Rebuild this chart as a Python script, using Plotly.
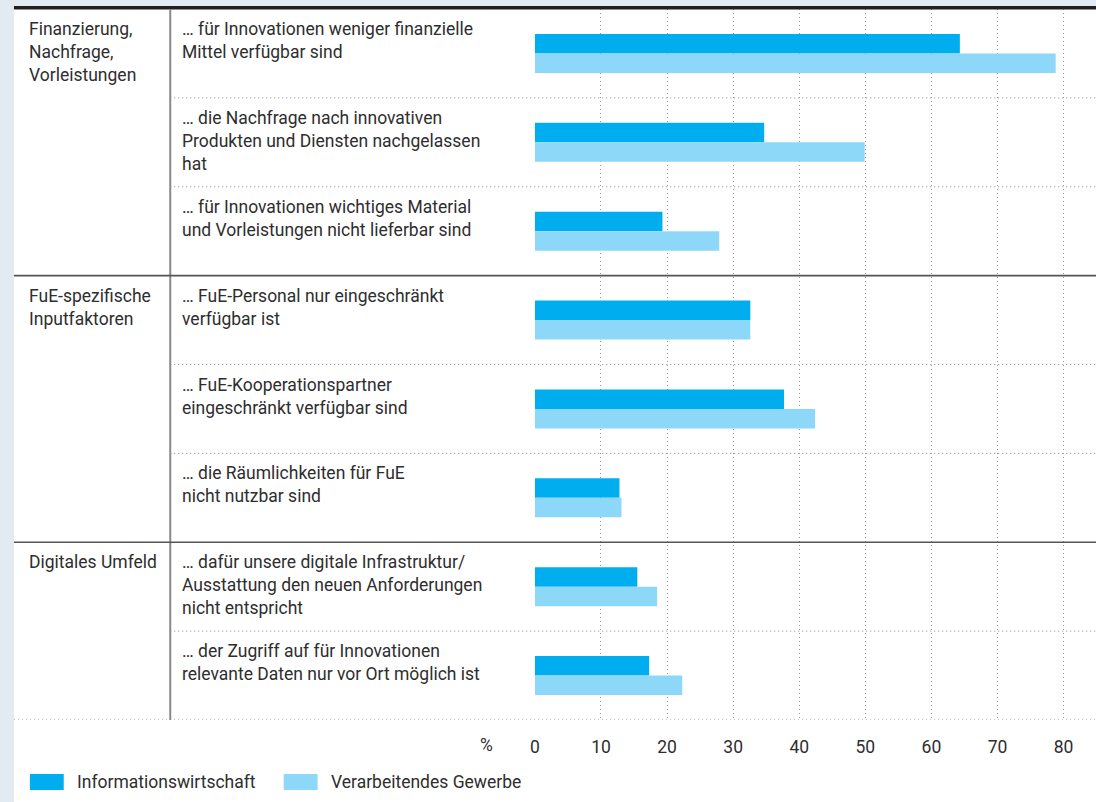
import plotly.graph_objects as go

# ---------------- data ----------------
groups = ["Finanzierung,<br>Nachfrage,<br>Vorleistungen",
          "FuE-spezifische<br>Inputfaktoren",
          "Digitales Umfeld"]
group_start = [0, 3, 6]

categories = [
    "… für Innovationen weniger finanzielle<br>Mittel verfügbar sind",
    "… die Nachfrage nach innovativen<br>Produkten und Diensten nachgelassen<br>hat",
    "… für Innovationen wichtiges Material<br>und Vorleistungen nicht lieferbar sind",
    "… FuE-Personal nur eingeschränkt<br>verfügbar ist",
    "… FuE-Kooperationspartner<br>eingeschränkt verfügbar sind",
    "… die Räumlichkeiten für FuE<br>nicht nutzbar sind",
    "… dafür unsere digitale Infrastruktur/<br>Ausstattung den neuen Anforderungen<br>nicht entspricht",
    "… der Zugriff auf für Innovationen<br>relevante Daten nur vor Ort möglich ist",
]
informationswirtschaft = [64.3, 34.7, 19.3, 32.6, 37.7, 12.8, 15.5, 17.3]
verarbeitendes_gewerbe = [78.8, 49.9, 27.9, 32.6, 42.4, 13.1, 18.5, 22.3]
tick_values = [0, 10, 20, 30, 40, 50, 60, 70, 80]
series_names = ["Informationswirtschaft", "Verarbeitendes Gewerbe"]
colors = ["#00aeef", "#8dd8f8"]

# ---------------- layout helpers ----------------
W, H = 1096, 802
TOP, BOTTOM = 9, 720
FONT = "Roboto"
FS = 17.5
TXT = "#2e2e2e"


def px(x):
    return x / W


def py(y):
    return (BOTTOM - y) / (BOTTOM - TOP)


ypos = list(range(len(categories)))
fig = go.Figure()
fig.add_trace(go.Bar(y=ypos, x=informationswirtschaft, orientation="h",
                     name=series_names[0], marker=dict(color=colors[0], line=dict(width=0))))
fig.add_trace(go.Bar(y=ypos, x=verarbeitendes_gewerbe, orientation="h",
                     name=series_names[1], marker=dict(color=colors[1], line=dict(width=0))))

shapes = []
# background frame
shapes.append(dict(type="rect", xref="paper", yref="paper", x0=px(9), x1=px(W),
                   y0=py(H), y1=py(6), fillcolor="white", line=dict(width=0), layer="below"))
# top thick line
shapes.append(dict(type="rect", xref="paper", yref="paper", x0=px(9), x1=px(W),
                   y0=py(9.5), y1=py(6), fillcolor="#231f20", line=dict(width=0), layer="above"))
# vertical separator
shapes.append(dict(type="line", xref="paper", yref="paper", x0=px(166), x1=px(166),
                   y0=0, y1=1, line=dict(color="#8a8a8a", width=2)))
# row separators
n = len(categories)
for i in range(1, n + 1):
    yv = i - 0.5
    if i in group_start:
        shapes.append(dict(type="line", xref="paper", yref="y", x0=px(9), x1=1,
                           y0=yv, y1=yv, line=dict(color="#555555", width=1.6)))
    elif i == n:
        shapes.append(dict(type="line", xref="paper", yref="y", x0=px(9), x1=1,
                           y0=yv, y1=yv, line=dict(color="#8a8a8a", width=1, dash="1px,3px")))
    else:
        shapes.append(dict(type="line", xref="paper", yref="y", x0=px(166), x1=1,
                           y0=yv, y1=yv, line=dict(color="#8a8a8a", width=1, dash="1px,3px")))

annotations = []
for g, s in zip(groups, group_start):
    annotations.append(dict(text=g, xref="paper", yref="y", x=px(22), y=s - 0.5,
                            xanchor="left", yanchor="top", yshift=-8, align="left",
                            showarrow=False, font=dict(family=FONT, size=FS, color=TXT)))
for i, c in enumerate(categories):
    annotations.append(dict(text=c, xref="paper", yref="y", x=px(176), y=i - 0.5,
                            xanchor="left", yanchor="top", yshift=-8, align="left",
                            showarrow=False, font=dict(family=FONT, size=FS, color=TXT)))
# percent sign
annotations.append(dict(text="%", xref="paper", yref="paper", x=px(484), y=py(745),
                        xanchor="center", yanchor="middle", showarrow=False,
                        font=dict(family=FONT, size=FS, color=TXT)))
# legend
leg = [(25, 70), (280, 325)]
for (sx, tx), name, col in zip(leg, series_names, colors):
    shapes.append(dict(type="rect", xref="paper", yref="paper", x0=px(sx), x1=px(sx + 34),
                       y0=py(790), y1=py(774), fillcolor=col, line=dict(width=0)))
    annotations.append(dict(text=name, xref="paper", yref="paper", x=px(tx), y=py(782),
                            xanchor="left", yanchor="middle", showarrow=False,
                            font=dict(family=FONT, size=FS, color=TXT)))

fig.update_layout(
    width=W, height=H,
    margin=dict(l=0, r=0, t=TOP, b=H - BOTTOM, pad=0),
    paper_bgcolor="#e3ebf2", plot_bgcolor="rgba(0,0,0,0)",
    barmode="group", bargap=0.56, bargroupgap=0,
    showlegend=False,
    shapes=shapes, annotations=annotations,
    xaxis=dict(domain=[532.3 / W, 1], range=[0, 84.9], tickvals=tick_values,
               showgrid=True, gridcolor="#9a9a9a", griddash="1px,3px", gridwidth=1,
               zeroline=False, showline=False, ticks="",
               tickfont=dict(family=FONT, size=FS, color=TXT), ticklabelstandoff=14),
    yaxis=dict(range=[n - 0.5, -0.5], showticklabels=False, showgrid=False,
               zeroline=False, showline=False, ticks=""),
)

fig.write_html("out.html", config={"displayModeBar": False},
               post_script="document.body.style.margin='0';document.body.style.overflow='hidden';")
